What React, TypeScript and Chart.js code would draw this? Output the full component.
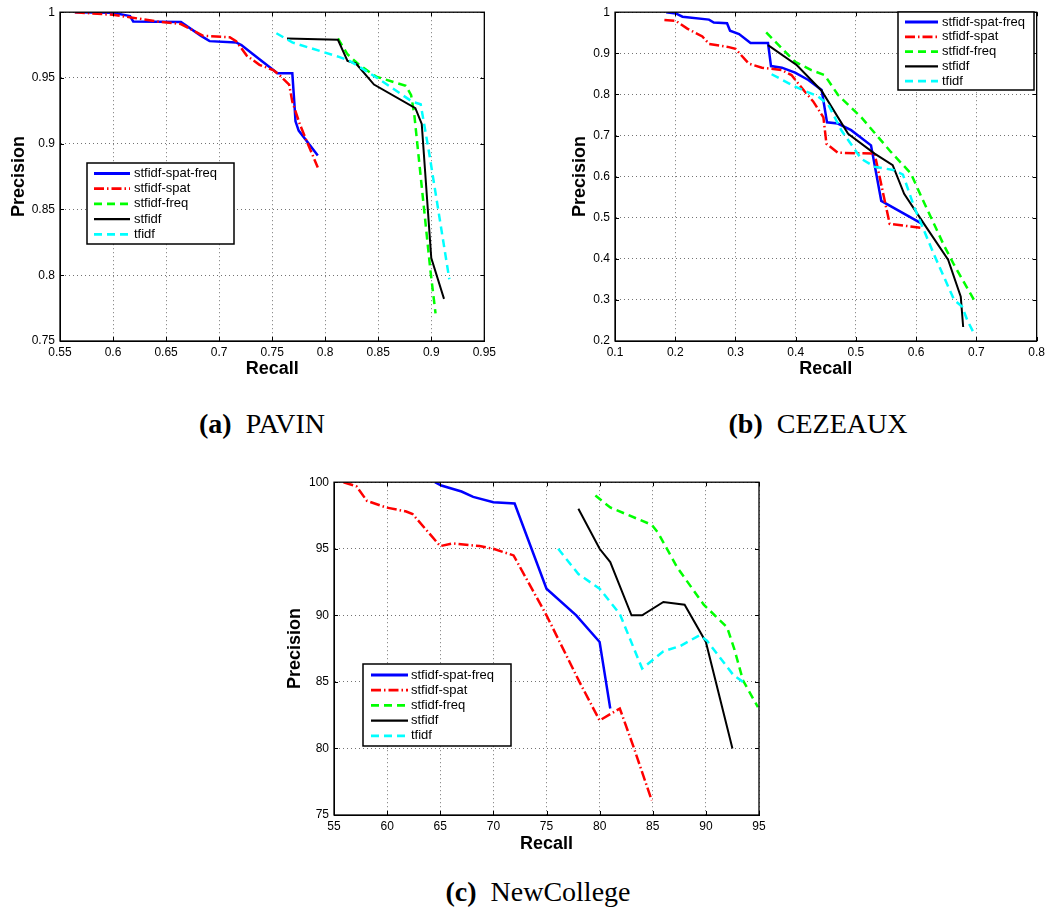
import React, { useEffect, useRef } from "react";
import { Chart, registerables } from "chart.js";

Chart.register(...registerables);

// ---------- shared series info ----------
const SERIES_NAMES = ["stfidf-spat-freq", "stfidf-spat", "stfidf-freq", "stfidf", "tfidf"];
const SERIES_COLORS = ["#0000ff", "#ff0000", "#00ff00", "#000000", "#00ffff"];
const SERIES_DASHES: number[][] = [[], [10, 3, 1.5, 3], [8, 5], [], [8, 5]];
const SERIES_WIDTHS = [2.5, 2.5, 2.5, 2, 2.5];

// ---------- (a) PAVIN ----------
const pavinSpatFreqRecall = [0.564, 0.600, 0.616, 0.619, 0.664, 0.683, 0.691, 0.716, 0.721, 0.732, 0.755, 0.769, 0.771, 0.772, 0.775, 0.793];
const pavinSpatFreqPrecision = [1.0, 0.9995, 0.997, 0.993, 0.9925, 0.982, 0.978, 0.977, 0.975, 0.968, 0.9535, 0.9535, 0.930, 0.917, 0.910, 0.891];
const pavinSpatRecall = [0.564, 0.600, 0.617, 0.641, 0.664, 0.685, 0.710, 0.716, 0.726, 0.738, 0.751, 0.757, 0.766, 0.769, 0.776, 0.782, 0.793];
const pavinSpatPrecision = [1.0, 0.998, 0.996, 0.993, 0.991, 0.982, 0.981, 0.978, 0.967, 0.960, 0.956, 0.952, 0.945, 0.932, 0.915, 0.903, 0.882];
const pavinFreqRecall = [0.812, 0.821, 0.832, 0.848, 0.876, 0.881, 0.884, 0.899, 0.904];
const pavinFreqPrecision = [0.980, 0.968, 0.960, 0.951, 0.944, 0.937, 0.922, 0.805, 0.771];
const pavinStfidfRecall = [0.764, 0.812, 0.821, 0.829, 0.846, 0.885, 0.891, 0.900, 0.912];
const pavinStfidfPrecision = [0.980, 0.979, 0.963, 0.961, 0.945, 0.927, 0.915, 0.813, 0.782];
const pavinTfidfRecall = [0.754, 0.769, 0.813, 0.823, 0.851, 0.882, 0.890, 0.898, 0.917];
const pavinTfidfPrecision = [0.984, 0.977, 0.966, 0.963, 0.949, 0.932, 0.930, 0.893, 0.797];
const pavinXTicks = [0.55, 0.6, 0.65, 0.7, 0.75, 0.8, 0.85, 0.9, 0.95];
const pavinYTicks = [0.75, 0.8, 0.85, 0.9, 0.95, 1];

// ---------- (b) CEZEAUX ----------
const cezSpatFreqRecall = [0.185, 0.201, 0.212, 0.256, 0.264, 0.286, 0.291, 0.306, 0.325, 0.354, 0.359, 0.377, 0.399, 0.421, 0.443, 0.452, 0.470, 0.492, 0.525, 0.542, 0.610];
const cezSpatFreqPrecision = [1.0, 0.997, 0.989, 0.982, 0.975, 0.973, 0.955, 0.947, 0.925, 0.925, 0.869, 0.865, 0.853, 0.835, 0.811, 0.732, 0.729, 0.713, 0.676, 0.541, 0.485];
const cezSpatRecall = [0.182, 0.201, 0.220, 0.245, 0.256, 0.289, 0.300, 0.322, 0.344, 0.377, 0.393, 0.415, 0.429, 0.446, 0.451, 0.470, 0.531, 0.556, 0.610];
const cezSpatPrecision = [0.981, 0.979, 0.960, 0.941, 0.923, 0.915, 0.911, 0.875, 0.865, 0.859, 0.847, 0.807, 0.783, 0.744, 0.680, 0.658, 0.656, 0.485, 0.475];
const cezFreqRecall = [0.351, 0.399, 0.426, 0.448, 0.470, 0.509, 0.558, 0.591, 0.613, 0.646, 0.663, 0.696];
const cezFreqPrecision = [0.951, 0.879, 0.859, 0.847, 0.799, 0.744, 0.660, 0.608, 0.537, 0.433, 0.385, 0.300];
const cezStfidfRecall = [0.354, 0.402, 0.443, 0.487, 0.531, 0.561, 0.580, 0.613, 0.653, 0.674, 0.678];
const cezStfidfPrecision = [0.920, 0.871, 0.809, 0.704, 0.656, 0.628, 0.558, 0.485, 0.398, 0.308, 0.234];
const cezTfidfRecall = [0.360, 0.399, 0.437, 0.454, 0.476, 0.509, 0.531, 0.562, 0.578, 0.597, 0.630, 0.663, 0.676, 0.685, 0.696];
const cezTfidfPrecision = [0.849, 0.819, 0.795, 0.775, 0.712, 0.643, 0.624, 0.616, 0.605, 0.525, 0.409, 0.300, 0.284, 0.250, 0.218];
const cezXTicks = [0.1, 0.2, 0.3, 0.4, 0.5, 0.6, 0.7, 0.8];
const cezYTicks = [0.2, 0.3, 0.4, 0.5, 0.6, 0.7, 0.8, 0.9, 1];

// ---------- (c) NewCollege ----------
const ncSpatFreqRecall = [64.5, 65.1, 67.0, 68.1, 70.0, 72.0, 75.0, 77.8, 80.0, 81.0];
const ncSpatFreqPrecision = [100, 99.75, 99.3, 98.9, 98.5, 98.4, 92.0, 90.0, 88.0, 83.0];
const ncSpatRecall = [55.9, 57.1, 58.1, 59.9, 61.8, 62.4, 65.0, 66.2, 68.7, 70.0, 71.9, 75.0, 78.1, 80.0, 81.9, 83.2, 84.9];
const ncSpatPrecision = [100, 99.7, 98.6, 98.1, 97.8, 97.6, 95.2, 95.4, 95.2, 95.0, 94.5, 90.0, 85.0, 82.1, 83.0, 80.1, 76.1];
const ncFreqRecall = [79.6, 81.0, 82.5, 84.9, 85.5, 87.3, 89.8, 92.0, 92.7, 93.5, 94.9];
const ncFreqPrecision = [99.0, 98.1, 97.6, 96.8, 96.2, 93.6, 90.8, 89.1, 87.4, 85.1, 83.1];
const ncStfidfRecall = [78.0, 80.0, 81.0, 83.0, 84.0, 86.0, 88.0, 90.0, 92.5];
const ncStfidfPrecision = [98.0, 95.0, 94.0, 90.0, 90.0, 91.0, 90.8, 88.0, 80.0];
const ncTfidfRecall = [76.1, 78.0, 80.0, 81.9, 84.0, 86.0, 87.6, 89.4, 90.1, 92.6, 93.5];
const ncTfidfPrecision = [95.0, 93.1, 92.0, 90.1, 86.0, 87.3, 87.7, 88.5, 88.1, 85.5, 85.0];
const ncXTicks = [55, 60, 65, 70, 75, 80, 85, 90, 95];
const ncYTicks = [75, 80, 85, 90, 95, 100];

// ---------- captions ----------
const PANEL_LETTERS = ["(a)", "(b)", "(c)"];
const PANEL_NAMES = ["PAVIN", "CEZEAUX", "NewCollege"];

const fmt = (v: number) => String(Number(v.toFixed(3)));

type LegendBox = {
  x: number; y: number; w: number; h: number;
  lineX1: number; lineX2: number; textX: number; rowY0: number; rowStep: number;
};

type PanelLayout = {
  left: number; top: number; width: number; height: number;
  yAxisWidth: number; xAxisHeight: number; padTop: number; padRight: number;
  yTitlePad: number; xTitlePad: number; legend: LegendBox;
};

const framePlugin = {
  id: "matlabFrame",
  afterDraw(chart: any, _args: any, opts: any) {
    const { ctx, chartArea } = chart;
    const { left, top, right, bottom } = chartArea;
    const xs = chart.scales.x;
    const ys = chart.scales.y;
    ctx.save();
    ctx.setLineDash([]);
    ctx.strokeStyle = "#000";
    ctx.lineWidth = 1;
    ctx.beginPath();
    for (const t of xs.ticks) {
      const px = Math.round(xs.getPixelForValue(t.value)) + 0.5;
      ctx.moveTo(px, bottom);
      ctx.lineTo(px, bottom - 4);
      ctx.moveTo(px, top);
      ctx.lineTo(px, top + 4);
    }
    for (const t of ys.ticks) {
      const py = Math.round(ys.getPixelForValue(t.value)) + 0.5;
      ctx.moveTo(left, py);
      ctx.lineTo(left + 4, py);
      ctx.moveTo(right, py);
      ctx.lineTo(right - 4, py);
    }
    ctx.stroke();
    ctx.lineWidth = 1.3;
    ctx.strokeRect(left, top, right - left, bottom - top);

    const L: LegendBox = opts.legend;
    if (L) {
      ctx.fillStyle = "#fff";
      ctx.fillRect(L.x, L.y, L.w, L.h);
      ctx.lineWidth = 1.5;
      ctx.strokeStyle = "#000";
      ctx.strokeRect(L.x, L.y, L.w, L.h);
      SERIES_NAMES.forEach((name, i) => {
        const y = L.rowY0 + i * L.rowStep;
        ctx.beginPath();
        ctx.strokeStyle = SERIES_COLORS[i];
        ctx.lineWidth = SERIES_WIDTHS[i] + 0.3;
        ctx.setLineDash(SERIES_DASHES[i]);
        ctx.moveTo(L.lineX1, y);
        ctx.lineTo(L.lineX2, y);
        ctx.stroke();
        ctx.setLineDash([]);
        ctx.fillStyle = "#000";
        ctx.font = '13px "Liberation Sans", Arial, sans-serif';
        ctx.textBaseline = "middle";
        ctx.textAlign = "left";
        ctx.fillText(name, L.textX, y);
      });
    }
    ctx.restore();
  },
};

function Panel(props: {
  recalls: number[][];
  precisions: number[][];
  xTicks: number[];
  yTicks: number[];
  layout: PanelLayout;
}) {
  const ref = useRef<HTMLCanvasElement | null>(null);
  const { recalls, precisions, xTicks, yTicks, layout } = props;

  useEffect(() => {
    if (!ref.current) return;
    const datasets = SERIES_NAMES.map((name, i) => ({
      label: name,
      data: recalls[i].map((r, j) => ({ x: r, y: precisions[i][j] })),
      borderColor: SERIES_COLORS[i],
      backgroundColor: SERIES_COLORS[i],
      borderWidth: SERIES_WIDTHS[i],
      borderDash: SERIES_DASHES[i],
      pointRadius: 0,
      tension: 0,
      fill: false,
      order: SERIES_NAMES.length - 1 - i,
    }));
    const tickFont = { family: '"Liberation Sans", Arial, sans-serif', size: 12 };
    const titleFont = { family: '"Liberation Sans", Arial, sans-serif', size: 18, weight: "bold" as const };
    const chart = new Chart(ref.current, {
      type: "line",
      data: { datasets },
      options: {
        animation: false,
        responsive: false,
        devicePixelRatio: 1,
        layout: { padding: { top: layout.padTop, right: layout.padRight, left: 0, bottom: 0 } },
        plugins: {
          legend: { display: false },
          tooltip: { enabled: false },
          matlabFrame: { legend: layout.legend },
        } as any,
        scales: {
          x: {
            type: "linear",
            min: xTicks[0],
            max: xTicks[xTicks.length - 1],
            afterBuildTicks: (s: any) => {
              s.ticks = xTicks.map((v) => ({ value: v }));
            },
            afterFit: (s: any) => {
              s.height = layout.xAxisHeight;
            },
            ticks: {
              autoSkip: false,
              maxRotation: 0,
              padding: 4,
              color: "#000",
              font: tickFont,
              callback: (v: any) => fmt(Number(v)),
            },
            grid: { color: "rgba(0,0,0,0.55)", lineWidth: 1, drawTicks: false },
            border: { display: true, color: "#000", width: 1, dash: [1, 3] },
            title: { display: true, text: "Recall", color: "#000", font: titleFont, padding: { top: 0, bottom: layout.xTitlePad } },
          },
          y: {
            type: "linear",
            min: yTicks[0],
            max: yTicks[yTicks.length - 1],
            afterBuildTicks: (s: any) => {
              s.ticks = yTicks.map((v) => ({ value: v }));
            },
            afterFit: (s: any) => {
              s.width = layout.yAxisWidth;
            },
            ticks: {
              autoSkip: false,
              padding: 5,
              color: "#000",
              font: tickFont,
              callback: (v: any) => fmt(Number(v)),
            },
            grid: { color: "rgba(0,0,0,0.55)", lineWidth: 1, drawTicks: false },
            border: { display: true, color: "#000", width: 1, dash: [1, 3] },
            title: { display: true, text: "Precision", color: "#000", font: titleFont, padding: { top: layout.yTitlePad, bottom: 0 } },
          },
        },
      } as any,
      plugins: [framePlugin as any],
    });
    return () => chart.destroy();
  }, []);

  return (
    <canvas
      ref={ref}
      width={layout.width}
      height={layout.height}
      style={{ position: "absolute", left: layout.left, top: layout.top, width: layout.width, height: layout.height }}
    />
  );
}

const layoutA: PanelLayout = {
  left: 0, top: 0, width: 500, height: 390,
  yAxisWidth: 60, xAxisHeight: 49, padTop: 6, padRight: 15,
  yTitlePad: 8, xTitlePad: 10.5,
  legend: { x: 87, y: 163, w: 147, h: 81, lineX1: 94, lineX2: 130, textX: 134, rowY0: 173.5, rowStep: 15.2 },
};
const layoutB: PanelLayout = {
  left: 530, top: 0, width: 519, height: 390,
  yAxisWidth: 85, xAxisHeight: 49, padTop: 6, padRight: 9,
  yTitlePad: 39, xTitlePad: 10.5,
  legend: { x: 368, y: 12, w: 136, h: 78, lineX1: 375, lineX2: 408, textX: 412, rowY0: 22, rowStep: 14.8 },
};
const layoutC: PanelLayout = {
  left: 250, top: 470, width: 520, height: 400,
  yAxisWidth: 84, xAxisHeight: 55, padTop: 11, padRight: 11,
  yTitlePad: 34.6, xTitlePad: 15.5,
  legend: { x: 113, y: 194, w: 148, h: 82, lineX1: 121, lineX2: 158, textX: 161, rowY0: 205, rowStep: 15.2 },
};

function Caption(props: { index: number; centerX: number; top: number }) {
  const { index, centerX, top } = props;
  return (
    <div
      style={{
        position: "absolute",
        left: centerX - 150,
        width: 300,
        top,
        textAlign: "center",
        fontFamily: '"Liberation Serif", "Times New Roman", serif',
        fontSize: 28,
        lineHeight: "28px",
        whiteSpace: "nowrap",
        color: "#000",
      }}
    >
      <b style={{ marginRight: 14 }}>{PANEL_LETTERS[index]}</b>
      {PANEL_NAMES[index]}
    </div>
  );
}

export default function App() {
  return (
    <div style={{ position: "absolute", left: 0, top: 0, width: 1049, height: 919, background: "#fff", overflow: "hidden" }}>
      <Panel
        recalls={[pavinSpatFreqRecall, pavinSpatRecall, pavinFreqRecall, pavinStfidfRecall, pavinTfidfRecall]}
        precisions={[pavinSpatFreqPrecision, pavinSpatPrecision, pavinFreqPrecision, pavinStfidfPrecision, pavinTfidfPrecision]}
        xTicks={pavinXTicks}
        yTicks={pavinYTicks}
        layout={layoutA}
      />
      <Panel
        recalls={[cezSpatFreqRecall, cezSpatRecall, cezFreqRecall, cezStfidfRecall, cezTfidfRecall]}
        precisions={[cezSpatFreqPrecision, cezSpatPrecision, cezFreqPrecision, cezStfidfPrecision, cezTfidfPrecision]}
        xTicks={cezXTicks}
        yTicks={cezYTicks}
        layout={layoutB}
      />
      <Panel
        recalls={[ncSpatFreqRecall, ncSpatRecall, ncFreqRecall, ncStfidfRecall, ncTfidfRecall]}
        precisions={[ncSpatFreqPrecision, ncSpatPrecision, ncFreqPrecision, ncStfidfPrecision, ncTfidfPrecision]}
        xTicks={ncXTicks}
        yTicks={ncYTicks}
        layout={layoutC}
      />
      <Caption index={0} centerX={262} top={409.5} />
      <Caption index={1} centerX={818} top={409.5} />
      <Caption index={2} centerX={538} top={878} />
    </div>
  );
}
